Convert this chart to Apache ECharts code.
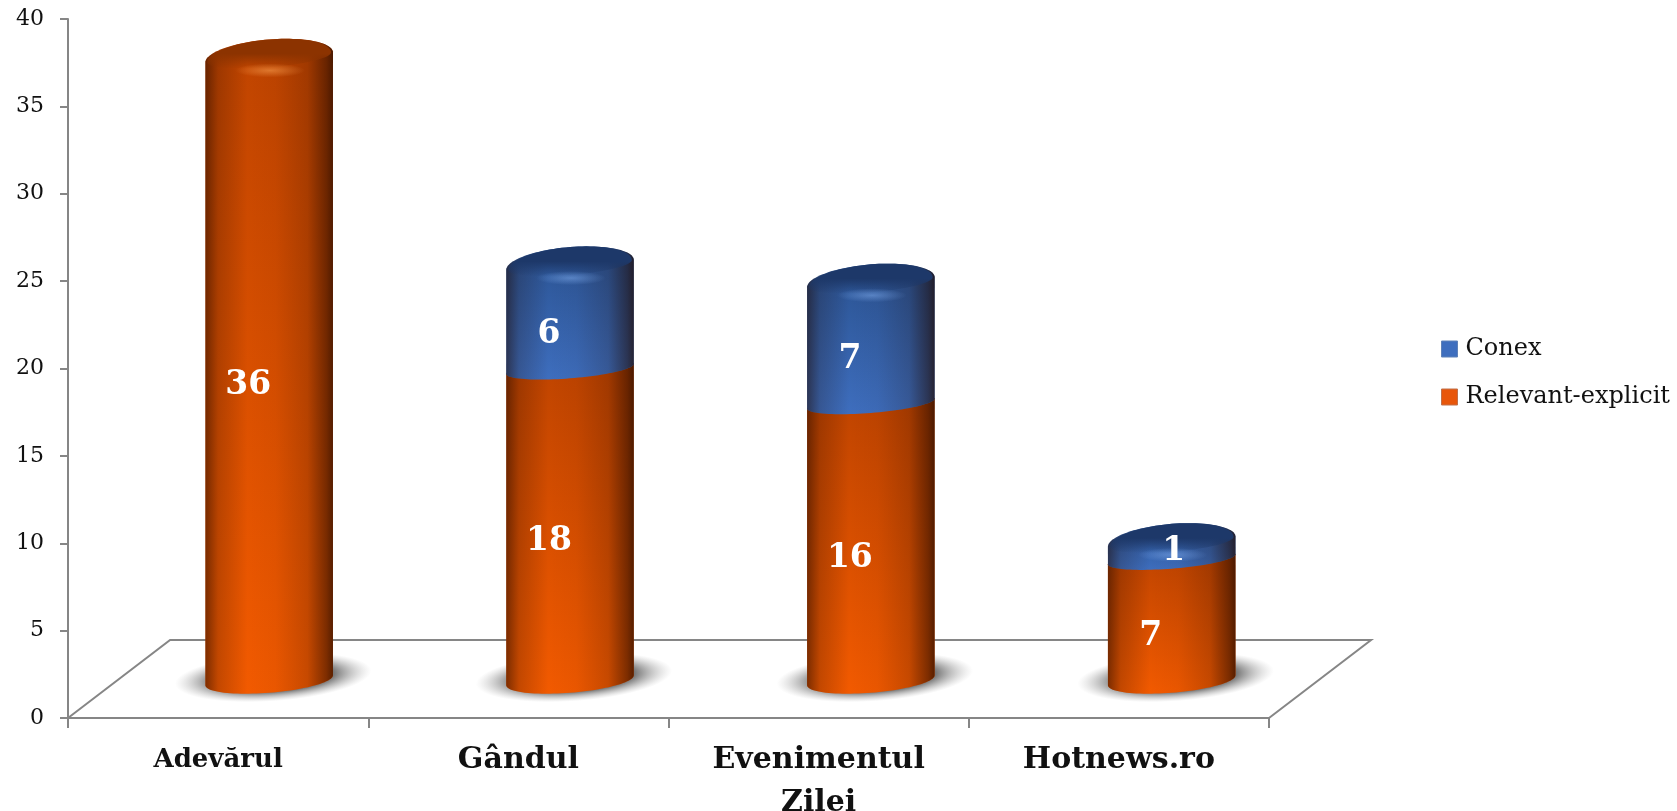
<!DOCTYPE html>
<html>
<head>
<meta charset="utf-8">
<style>html,body{margin:0;padding:0;background:#fff}#c{width:1677px;height:811px}</style>
<script src="https://cdn.jsdelivr.net/npm/echarts@6/dist/echarts.min.js"></script>
</head>
<body>
<div id="c"></div>
<script>
const categories = ['Adevărul', 'Gândul', 'Evenimentul\nZilei', 'Hotnews.ro'];
const relevantExplicit = [36, 18, 16, 7];
const conex = [0, 6, 7, 1];
const seriesNames = ['Conex', 'Relevant-explicit'];
const yTicks = { min: 0, max: 40, interval: 5 };

const FONT = '"DejaVu Serif", serif';
const AXIS = '#868686';
// 3D look: the columns stand in the middle of a floor that recedes behind the axis plane
const FLOOR_DEPTH_VALUE = 4.46;
const FLOOR_DEPTH_BAND = 0.34;
const COL_SHIFT_BAND = 0.170;
const COL_SPREAD_BAND = 0.002;
const COL_RADIUS_BAND = 0.2125;
const COL_BASE_VALUE = 2.16;
const COL_SCALE = 0.99;
const TILT = 5;

const palette = {
  orange: { top: '#bf4400', bottom: '#f25a00', cap: '#8c3300', glow: 'rgba(255,170,90,0.75)' },
  blue:   { top: '#2a5291', bottom: '#3e6ebe', cap: '#1d3869', glow: 'rgba(130,175,240,0.75)' }
};

function ellipsePts(cx, cy, a, b, t0, t1) {
  const pts = [];
  const n = 48;
  for (let i = 0; i <= n; i++) {
    const t = t0 + (t1 - t0) * i / n;
    pts.push([cx + a * Math.cos(t), cy + b * Math.sin(t) - TILT * Math.cos(t)]);
  }
  return pts;
}
const linear = (x, y, x2, y2, colorStops) => ({ type: 'linear', x, y, x2, y2, colorStops });
const shade = linear(0, 0, 1, 0, [
  { offset: 0, color: 'rgba(30,8,0,0.55)' },
  { offset: 0.1, color: 'rgba(30,8,0,0.22)' },
  { offset: 0.33, color: 'rgba(30,8,0,0)' },
  { offset: 0.55, color: 'rgba(30,8,0,0.04)' },
  { offset: 0.8, color: 'rgba(30,8,0,0.2)' },
  { offset: 0.95, color: 'rgba(30,8,0,0.55)' },
  { offset: 1, color: 'rgba(30,8,0,0.72)' }
]);

function projector(api, i) {
  const bw = api.size([1, 0])[0];
  return {
    cx: api.coord([i, 0])[0] + bw * (COL_SHIFT_BAND + i * COL_SPREAD_BAND),
    a: bw * COL_RADIUS_BAND,
    y: v => api.coord([i, COL_BASE_VALUE + v * COL_SCALE])[1]
  };
}

function column(p, from, to, look, bottomB, topB, isTop) {
  const y0 = p.y(from), y1 = p.y(to);
  const pts = ellipsePts(p.cx, y0, p.a, bottomB, Math.PI, 0)
    .concat(ellipsePts(p.cx, y1, p.a, topB, 0, -Math.PI));
  const kids = [
    { type: 'polygon', shape: { points: pts }, style: { fill: linear(0, 0, 0, 1, [
      { offset: 0, color: look.top }, { offset: 1, color: look.bottom }]) } },
    { type: 'polygon', shape: { points: pts }, style: { fill: shade } }
  ];
  if (isTop) {
    const capPts = ellipsePts(p.cx, y1, p.a - 2, topB, 0, -Math.PI)
      .concat(ellipsePts(p.cx, y1, p.a - 2, 10, Math.PI, 0));
    kids.push({ type: 'polygon', shape: { points: capPts }, style: { fill: linear(0, 0, 0, 1, [
      { offset: 0, color: look.cap }, { offset: 0.5, color: look.cap },
      { offset: 1, color: look.cap + '00' }]) } });
    kids.push({ type: 'circle', shape: { cx: 0, cy: 0, r: 7 }, x: p.cx + 1, y: y1 + 13, scaleX: 5, silent: true,
      style: { fill: { type: 'radial', x: 0.5, y: 0.5, r: 0.5, colorStops: [
        { offset: 0, color: look.glow.replace(/[\d.]+\)$/, '0.5)') }, { offset: 1, color: look.glow.replace(/[\d.]+\)$/, '0)') }] } } });
  }
  return kids;
}

function valueLabel(p, from, value) {
  const small = value <= 1;
  return {
    type: 'text', z2: 50,
    x: p.cx + (small ? 2 : -21),
    y: p.y(from + value / 2) + (small ? 1 : 17),
    style: { text: String(value), fill: '#fff', font: 'bold 33px ' + FONT, textAlign: 'center', textVerticalAlign: 'middle' }
  };
}

const option = {
  backgroundColor: '#fff',
  animation: false,
  textStyle: { fontFamily: FONT },
  grid: { left: 68, top: 19, width: 1201, height: 699, containLabel: false, outerBoundsMode: 'none' },
  legend: {
    left: 1441, top: 335, orient: 'vertical', padding: 0, itemWidth: 16, itemHeight: 16, itemGap: 20,
    selectedMode: false,
    textStyle: { fontFamily: FONT, fontSize: 24, color: '#111', lineHeight: 24, padding: [4, 0, 0, 3] },
    data: [
      { name: seriesNames[0], icon: 'rect', itemStyle: { color: palette.blue.bottom, borderColor: '#5f82b8', borderWidth: 1 } },
      { name: seriesNames[1], icon: 'rect', itemStyle: { color: '#e8560a', borderColor: '#c0704a', borderWidth: 1 } }
    ]
  },
  xAxis: {
    type: 'category',
    data: categories.map((c, i) => i === 0 ? { value: c, textStyle: { fontSize: 26 } } : c),
    axisLine: { lineStyle: { color: AXIS, width: 2 } },
    axisTick: { show: true, length: 10, alignWithLabel: false, lineStyle: { color: AXIS, width: 2 } },
    axisLabel: { interval: 0, margin: 21, fontFamily: FONT, fontWeight: 'bold', fontSize: 30, lineHeight: 43, color: '#111' }
  },
  yAxis: {
    type: 'value', min: yTicks.min, max: yTicks.max, interval: yTicks.interval,
    splitLine: { show: false },
    axisLine: { show: true, lineStyle: { color: AXIS, width: 2 } },
    axisTick: { show: true, length: 8, lineStyle: { color: AXIS, width: 2 } },
    axisLabel: { margin: 24, fontFamily: FONT, fontSize: 22, color: '#111', padding: [6, 0, 0, 0] }
  },
  series: [
    {
      type: 'custom', name: 'floor', silent: true, z: 1,
      data: [[0, 0]],
      renderItem(params, api) {
        const bw = api.size([1, 0])[0];
        const n = categories.length;
        const o = api.coord([0, 0]);
        const back = api.coord([0, FLOOR_DEPTH_VALUE])[1];
        const l = o[0] - bw / 2, r = l + bw * n, d = bw * FLOOR_DEPTH_BAND;
        return { type: 'polyline', shape: { points: [[l, o[1]], [l + d, back], [r + d, back], [r, o[1]]] },
          style: { fill: null, stroke: AXIS, lineWidth: 2 } };
      }
    },
    {
      type: 'custom', name: seriesNames[1], silent: true, z: 2,
      itemStyle: { color: '#e8560a' },
      encode: { x: 0, y: 1 },
      data: relevantExplicit.map((v, i) => [i, v]),
      renderItem(params, api) {
        const i = api.value(0), v = api.value(1);
        const p = projector(api, i);
        const yB = p.y(0);
        const shadow = { type: 'circle', shape: { cx: 0, cy: 0, r: 24 }, x: p.cx + 4, y: yB - 3, scaleX: 4.1, rotation: 0.07,
          style: { fill: { type: 'radial', x: 0.5, y: 0.5, r: 0.5, colorStops: [
            { offset: 0, color: 'rgba(110,110,110,1)' }, { offset: 0.62, color: 'rgba(120,120,120,1)' },
            { offset: 1, color: 'rgba(190,190,190,0)' }] } } };
        const isTop = !conex[i];
        return { type: 'group', children: [shadow]
          .concat(column(p, 0, v, palette.orange, 12.5, isTop ? 18 : 4, isTop))
          .concat([valueLabel(p, 0, v)]) };
      }
    },
    {
      type: 'custom', name: seriesNames[0], silent: true, z: 3,
      itemStyle: { color: '#3e6ebe' },
      encode: { x: 0, y: 1 },
      data: conex.map((v, i) => [i, relevantExplicit[i] + v, v]),
      renderItem(params, api) {
        const i = api.value(0), top = api.value(1), v = api.value(2);
        if (!v) return null;
        const p = projector(api, i);
        const from = top - v;
        return { type: 'group', children: column(p, from, top, palette.blue, 9.5, 18, true)
          .concat([valueLabel(p, from, v)]) };
      }
    }
  ]
};
const chart = echarts.init(document.getElementById('c'), null, { renderer: 'canvas' });
chart.setOption(option);
</script>
</body>
</html>
